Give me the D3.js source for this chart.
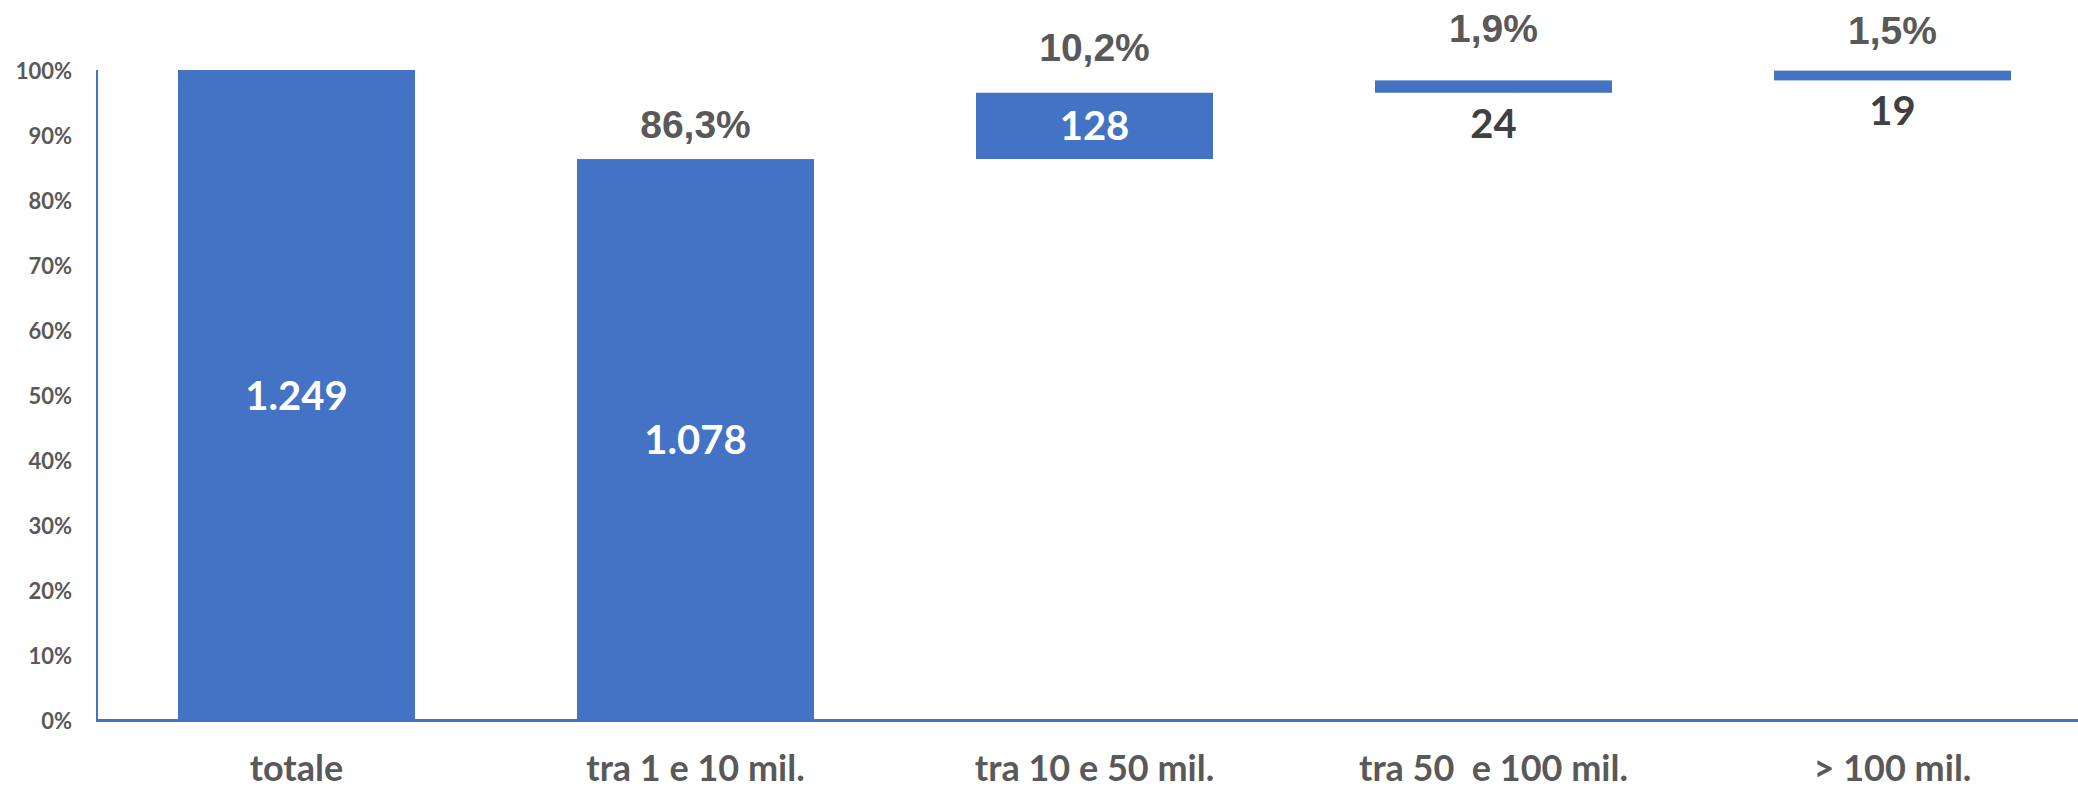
<!DOCTYPE html>
<html>
<head>
<meta charset="utf-8">
<script src="https://cdn.jsdelivr.net/npm/d3@7"></script>
<style>
  body { margin: 0; background: #fff; }
  svg text { white-space: pre; }
</style>
</head>
<body>
<svg id="chart" width="2078" height="788"></svg>
<script>
// categories and values
var categories = ["totale", "tra 1 e 10 mil.", "tra 10 e 50 mil.", "tra 50  e 100 mil.", "> 100 mil."]
var counts     = [1249, 1078, 128, 24, 19]
var shares     = [100, 86.3, 10.2, 1.9, 1.5]
var yTicks     = [0, 10, 20, 30, 40, 50, 60, 70, 80, 90, 100]

// layout only: extra lift of the % labels (Excel placed them by hand)
var pctLift = [0, 21, 32, 38, 27]

var blue = "#4472C4"
var svg = d3.select("#chart")

var x = d3.scaleBand().domain(categories).range([97, 2092]).paddingInner(0.406).paddingOuter(0.203)
var y = d3.scaleLinear().domain([0, 100]).range([720, 70])

// waterfall: first bar is the total, the rest stack from the bottom
var bars = []
var base = 0
categories.forEach(function(c, i){
  if(i == 0){
    bars.push({cat: c, y0: 0, y1: shares[i], n: counts[i], p: shares[i], i: i})
  } else {
    bars.push({cat: c, y0: base, y1: base + shares[i], n: counts[i], p: shares[i], i: i})
    base += shares[i]
  }
})

// y axis
var yAxis = d3.axisLeft(y).tickValues(yTicks).tickSize(0).tickPadding(0).tickFormat(d => d + "%")
var gy = svg.append("g").attr("transform", "translate(72,0)").call(yAxis)
gy.select(".domain").remove()
gy.selectAll("text")
  .attr("dy", "8")
  .attr("fill", "#595959")
  .style("font-family", "Lato")
  .style("font-weight", "bold")
  .style("font-size", "22px")

svg.append("line")
  .attr("x1", 97).attr("x2", 97).attr("y1", y(100)).attr("y2", y(0))
  .attr("stroke", blue).attr("stroke-width", 2)

// bars
svg.selectAll("rect.bar").data(bars).enter()
  .append("rect")
  .attr("class", "bar")
  .attr("x", d => x(d.cat))
  .attr("width", x.bandwidth())
  .attr("y", d => y(d.y1))
  .attr("height", d => y(d.y0) - y(d.y1))
  .attr("fill", blue)

// x axis
svg.append("line")
  .attr("x1", 96).attr("x2", 2078).attr("y1", y(0) + 0.5).attr("y2", y(0) + 0.5)
  .attr("stroke", blue).attr("stroke-width", 3)

svg.selectAll("text.cat").data(categories).enter()
  .append("text")
  .attr("class", "cat")
  .attr("x", d => x(d) + x.bandwidth() / 2)
  .attr("y", 781)
  .attr("text-anchor", "middle")
  .attr("fill", "#595959")
  .style("font-family", "Lato")
  .style("font-weight", "bold")
  .style("font-size", "36px")
  .text(d => d)

// count labels: inside tall bars, below thin ones
function fmtCount(n){
  return d3.format(",")(n).replace(/,/g, ".")
}
svg.selectAll("text.count").data(bars).enter()
  .append("text")
  .attr("class", "count")
  .attr("x", d => x(d.cat) + x.bandwidth() / 2)
  .attr("y", function(d){
    var h = y(d.y0) - y(d.y1)
    return h > 40 ? (y(d.y0) + y(d.y1)) / 2 + 14.5 : y(d.y0) + 45
  })
  .attr("text-anchor", "middle")
  .attr("fill", d => (y(d.y0) - y(d.y1)) > 40 ? "#fff" : "#404040")
  .style("font-family", "Lato")
  .style("font-weight", "bold")
  .style("font-size", "40px")
  .text(d => fmtCount(d.n))

// share labels above the bars (not on the total)
svg.selectAll("text.pct").data(bars.filter(d => d.i > 0)).enter()
  .append("text")
  .attr("class", "pct")
  .attr("x", d => x(d.cat) + x.bandwidth() / 2)
  .attr("y", d => y(d.y1) - pctLift[d.i])
  .attr("text-anchor", "middle")
  .attr("fill", "#595959")
  .style("font-family", "Liberation Sans")
  .style("font-weight", "bold")
  .style("font-size", "39px")
  .text(d => d3.format(".1f")(d.p).replace(".", ",") + "%")
</script>
</body>
</html>
